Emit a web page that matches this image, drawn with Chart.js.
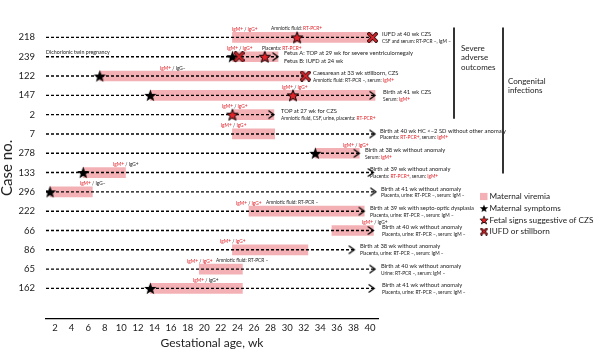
<!DOCTYPE html>
<html><head><meta charset="utf-8">
<script src="https://cdn.jsdelivr.net/npm/chart.js@4.4.1/dist/chart.umd.min.js"></script>
<style>html,body{margin:0;padding:0;background:#fff;}canvas{display:block;}</style>
</head><body>
<canvas id="c" width="600" height="356"></canvas>
<script>
// ---- data (gestational weeks) ----
const cases = ['218','239','122','147','2','7','278','133','296','222','66','86','65','162'];
const lineEnd = [40.3, 28.9, 32.2, 40.6, 28.4, 40.6, 38.7, 40.4, 40.7, 39.3, 40.4, 38.1, 40.6, 40.5];
const endsWithArrow = [false, true, false, true, true, true, true, true, true, true, true, true, true, true];
const viremiaStart = [23.4, 23.4, 7.4, 13.5, 23.4, 23.4, 33.4, 5.4, 1.4, 25.4, 35.4, 23.4, 19.4, 13.5];
const viremiaEnd   = [40.3, 28.9, 32.2, 40.6, 28.4, 28.5, 38.7, 10.5, 6.5, 39.3, 40.4, 32.5, 24.6, 24.6];
const symptomWeek   = [null, 23.4, 7.4, 13.5, null, null, 33.4, 5.4, 1.4, null, null, null, null, 13.5];
const fetalSignWeek = [31.2, 27.3, null, 30.7, 23.4, null, null, null, null, null, null, null, null, null];
const iufdWeek      = [40.3, 24.2, 32.2, null, null, null, null, null, null, null, null, null, null, null];
const xTicks = [2,4,6,8,10,12,14,16,18,20,22,24,26,28,30,32,34,36,38,40];

// ---- text annotations ({...} = shown in red) ----
const serologyText = ['{IgM+} / {IgG+}','{IgM+} / {IgG+}','{IgM+} / IgG–','{IgM+} / {IgG+}','{IgM+} / {IgG+}','{IgM+} / {IgG+}','{IgM+} / {IgG+}','{IgM+} / IgG+','{IgM+} / IgG–','{IgM+} / {IgG+}','{IgM+} / IgG+','{IgM+} / {IgG+}','{IgM+} / {IgG+}','{IgM+} / IgG+'];
const serologyWeek = [23.35, 22.75, 14.67, 29.38, 22.14, 22.0, 36.74, 9.0, 5.0, 23.83, 39.03, 21.9, 17.92, 18.65];
const extraText = ['Amniotic fluid: {RT-PCR+}','Placenta: {RT-PCR+}',null,null,null,null,null,null,null,'Amniotic fluid: RT-PCR –',null,null,'Amniotic fluid: RT-PCR –',null];
const extraWeek = [28.06, 26.97, null, null, null, null, null, null, null, 27.45, null, null, 21.42, null];
const outcomeText = ['IUFD at 40 wk CZS','Fetus A: TOP at 29 wk for severe ventriculomegaly','Caesarean at 33 wk stillborn, CZS','Birth at 41 wk CZS','TOP at 27 wk for CZS','Birth at 40 wk HC <–2 SD without other anomaly','Birth at 38 wk without anomaly','Birth at 39 wk without anomaly','Birth at 41 wk without anomaly','Birth at 39 wk with septo-optic dysplasia','Birth at 40 wk without anomaly','Birth at 38 wk without anomaly','Birth at 40 wk without anomaly','Birth at 41 wk without anomaly'];
const outcomeDetail = ['CSF and serum: RT-PCR –, IgM –','Fetus B: IUFD at 24 wk','Amniotic fluid: RT-PCR –, serum: {IgM+}','Serum: {IgM+}','Amniotic fluid, CSF, urine, placenta: {RT-PCR+}','Placenta: {RT-PCR+}, serum: {IgM+}','Serum: {IgM+}','Placenta: {RT-PCR+}, serum: {IgM+}','Placenta, urine: RT-PCR –, serum: IgM –','Placenta, urine: RT-PCR –, serum: IgM –','Placenta, urine: RT-PCR –, serum: IgM –','Placenta, urine: RT-PCR –, serum: IgM –','Urine: RT-PCR –, serum: IgM –','Placenta, urine: RT-PCR –, serum: IgM –'];
const outcomeWeek = [41.44, 29.62, 33.12, 41.57, 29.26, 41.2, 39.39, 40.0, 41.32, 40.0, 41.44, 38.79, 41.32, 41.44];
const legendLabels = ['Maternal viremia','Maternal symptoms','Fetal signs suggestive of CZS','IUFD or stillborn'];

// ---- styles ----
const FONT = 'Lato, "Open Sans", sans-serif';
const PINK = '#f4b1b5';
const RED = '#e3242b';
const TXT = '#222';

function starCanvas(size, fill, stroke) {
  const c = document.createElement('canvas'); c.width = c.height = size;
  const g = c.getContext('2d');
  const cx = size/2, cy = size/2 + 0.6, R = size/2 - 1, r = R*0.42;
  g.beginPath();
  for (let k=0;k<10;k++){const a=-Math.PI/2+k*Math.PI/5; const rr=k%2?r:R; g.lineTo(cx+rr*Math.cos(a), cy+rr*Math.sin(a));}
  g.closePath(); g.fillStyle = fill; g.fill();
  if (stroke) { g.strokeStyle = stroke; g.lineWidth = 1; g.stroke(); }
  return c;
}
function crossCanvas(size, w1, w2, m) {
  const c = document.createElement('canvas'); c.width = c.height = size;
  const g = c.getContext('2d');
  g.lineCap = 'square';
  const path = () => { g.beginPath(); g.moveTo(m,m); g.lineTo(size-m,size-m); g.moveTo(size-m,m); g.lineTo(m,size-m); };
  path(); g.strokeStyle = '#2a0a0a'; g.lineWidth = w1; g.stroke();
  path(); g.strokeStyle = '#d8262c'; g.lineWidth = w2; g.stroke();
  return c;
}
function chevronCanvas() {
  const c = document.createElement('canvas'); c.width = 16; c.height = 11;
  const g = c.getContext('2d');
  g.beginPath(); g.moveTo(2.5,1.5); g.lineTo(8,5.5); g.lineTo(2.5,9.5);
  g.strokeStyle = '#000'; g.lineWidth = 1.3; g.stroke();
  return c;
}
const blackStar = starCanvas(15, '#000', null);
const redStar = starCanvas(14, '#e3242b', '#000');
const redCross = crossCanvas(11, 3.6, 1.8, 2);
const legendCross = crossCanvas(8, 2.6, 1.1, 1.6);
const chevron = chevronCanvas();

const X_MIN = 0.91, X_MAX = 40.96;

const datasets = [];
datasets.push({
  type: 'bar', indexAxis: 'y', order: 5,
  data: cases.map((c,i)=>({x:[viremiaStart[i], viremiaEnd[i]], y:i})),
  backgroundColor: PINK, borderWidth: 0, barThickness: 10
});
cases.forEach((c,i)=>{
  datasets.push({
    type: 'line', order: 4,
    data: [{x:X_MIN, y:i},{x:lineEnd[i], y:i}],
    borderColor: '#000', borderWidth: 1.4, borderDash: [3,2], pointRadius: 0, fill: false
  });
});
datasets.push({
  type: 'scatter', order: 3,
  data: cases.map((c,i)=>endsWithArrow[i]?{x:lineEnd[i], y:i}:null).filter(Boolean),
  pointStyle: chevron, pointRadius: 5
});
datasets.push({
  type: 'scatter', order: 2,
  data: cases.map((c,i)=>symptomWeek[i]!=null?{x:symptomWeek[i], y:i}:null).filter(Boolean),
  pointStyle: blackStar, pointRadius: 7
});
datasets.push({
  type: 'scatter', order: 1,
  data: cases.map((c,i)=>fetalSignWeek[i]!=null?{x:fetalSignWeek[i], y:i}:null).filter(Boolean),
  pointStyle: redStar, pointRadius: 7
});
datasets.push({
  type: 'scatter', order: 0,
  data: cases.map((c,i)=>iufdWeek[i]!=null?{x:iufdWeek[i], y:i}:null).filter(Boolean),
  pointStyle: redCross, pointRadius: 6
});

function drawRich(ctx, text, x, y, size, color) {
  ctx.font = size + 'px ' + FONT;
  ctx.textBaseline = 'middle'; ctx.textAlign = 'left';
  const parts = text.split(/(\{[^}]*\})/);
  let cx = x;
  parts.forEach(p=>{
    if (!p) return;
    let red = false;
    if (p[0]==='{') { red = true; p = p.slice(1,-1); }
    ctx.fillStyle = red ? RED : color;
    ctx.fillText(p, cx, y);
    cx += ctx.measureText(p).width;
  });
}

const annotate = {
  id: 'annotate',
  afterDatasetsDraw(chart) {
    const ctx = chart.ctx, xs = chart.scales.x, ys = chart.scales.y;
    ctx.save();
    cases.forEach((c,i)=>{
      const y = ys.getPixelForValue(i);
      drawRich(ctx, serologyText[i], xs.getPixelForValue(serologyWeek[i]), y-8, 4.8, TXT);
      if (extraText[i]) drawRich(ctx, extraText[i], xs.getPixelForValue(extraWeek[i]), y-8.5, 4.8, TXT);
      const tx = xs.getPixelForValue(outcomeWeek[i]);
      drawRich(ctx, outcomeText[i], tx, y-3.2, 5.8, TXT);
      drawRich(ctx, outcomeDetail[i], tx, y+4, i===1?5.8:4.8, TXT);
    });
    drawRich(ctx, 'Dichorionic twin pregnancy', xs.getPixelForValue(X_MIN), ys.getPixelForValue(1)-4.5, 5.3, TXT);
    // group brackets
    ctx.strokeStyle = '#333'; ctx.lineWidth = 2;
    ctx.beginPath(); ctx.moveTo(454, ys.getPixelForValue(0)-10); ctx.lineTo(454, ys.getPixelForValue(4)+4); ctx.stroke();
    ctx.beginPath(); ctx.moveTo(503, ys.getPixelForValue(0)-10); ctx.lineTo(503, ys.getPixelForValue(7)+1); ctx.stroke();
    ['Severe','adverse','outcomes'].forEach((t,k)=>drawRich(ctx, t, 461, 48+k*9.5, 8, TXT));
    ['Congenital','infections'].forEach((t,k)=>drawRich(ctx, t, 508, 81+k*9.5, 8, TXT));
    // legend
    const lx = 484, ly = [196.5, 208.3, 220, 231.5];
    ctx.fillStyle = PINK; ctx.fillRect(lx-4, ly[0]-3.6, 7.5, 7.2);
    ctx.drawImage(blackStar, lx-5, ly[1]-5, 10, 10);
    ctx.drawImage(redStar, lx-5, ly[2]-5, 10, 10);
    ctx.drawImage(legendCross, lx-4, ly[3]-4);
    legendLabels.forEach((t,k)=>drawRich(ctx, t, 489.5, ly[k], 8.2, TXT));
    ctx.restore();
  }
};

new Chart(document.getElementById('c'), {
  data: { datasets },
  options: {
    responsive: false, animation: false, devicePixelRatio: 1,
    layout: { padding: { top: 7, right: 222, left: 0, bottom: 0 } },
    plugins: { legend: { display: false }, tooltip: { enabled: false } },
    scales: {
      x: {
        type: 'linear', position: 'bottom', min: X_MIN, max: X_MAX,
        afterBuildTicks: s => { s.ticks = xTicks.map(v=>({value:v})); },
        afterFit: s => { s.height = 37; },
        grid: { display: false, drawTicks: false },
        border: { display: true, color: '#000', width: 1.3 },
        ticks: { color: TXT, font: { family: FONT, size: 9.5 }, padding: 3, maxRotation: 0, autoSkip: false },
        title: { display: true, text: 'Gestational age, wk', color: TXT, font: { family: FONT, size: 12 }, padding: { top: 0, bottom: 6 } }
      },
      y: {
        type: 'linear', reverse: true, min: -0.513, max: 14.025,
        afterBuildTicks: s => { s.ticks = cases.map((c,i)=>({value:i})); },
        afterFit: s => { s.width = 46; },
        grid: { display: false, drawTicks: false },
        border: { display: false },
        ticks: { color: TXT, font: { family: FONT, size: 9.5 }, padding: 11, autoSkip: false,
                 callback: v => cases[v] !== undefined ? cases[v] : '' },
        title: { display: true, text: 'Case no.', color: TXT, font: { family: FONT, size: 15, lineHeight: 1 }, padding: { top: 0, bottom: 0 } }
      }
    }
  },
  plugins: [annotate]
});
</script>
</body></html>
